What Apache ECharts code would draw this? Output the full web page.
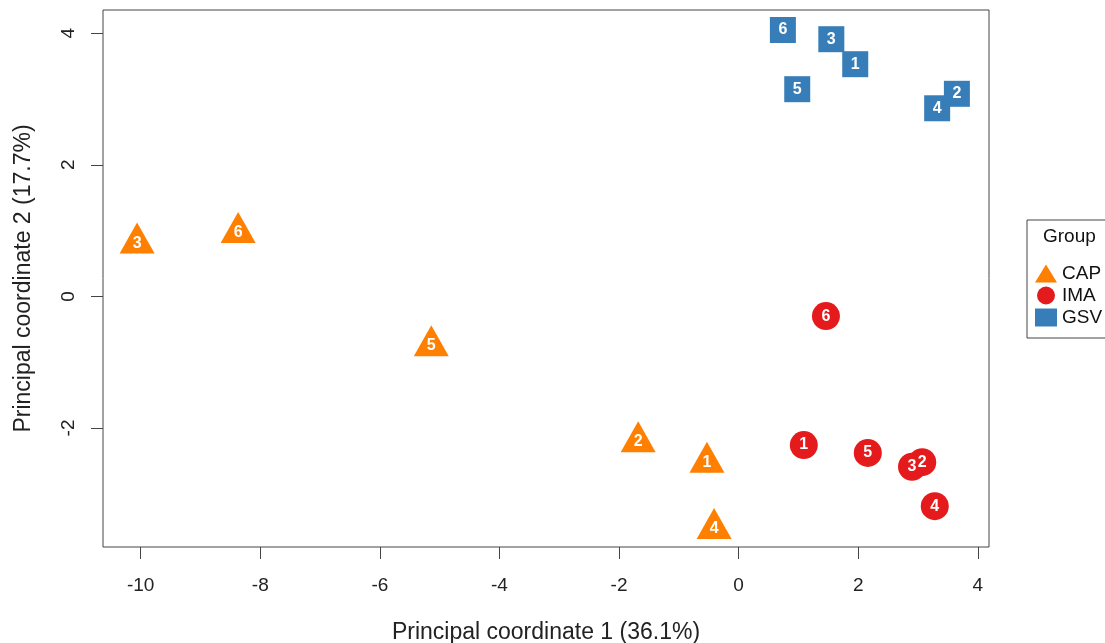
<!DOCTYPE html>
<html>
<head>
<meta charset="utf-8">
<script src="https://cdn.jsdelivr.net/npm/echarts@6/dist/echarts.min.js"></script>
<style>html,body{margin:0;padding:0;background:#fff;}#c{width:1105px;height:643px;}</style>
</head>
<body>
<div id="c"></div>
<script>
// Data
const groups = ['CAP', 'IMA', 'GSV'];
const capIds = ['3', '6', '5', '2', '1', '4'];
const capX = [-10.06, -8.37, -5.14, -1.68, -0.53, -0.41];
const capY = [0.81, 0.97, -0.75, -2.21, -2.52, -3.53];
const imaIds = ['1', '2', '3', '4', '5', '6'];
const imaX = [1.09, 3.07, 2.90, 3.28, 2.16, 1.46];
const imaY = [-2.26, -2.52, -2.59, -3.19, -2.38, -0.30];
const gsvIds = ['1', '2', '3', '4', '5', '6'];
const gsvX = [1.95, 3.65, 1.55, 3.32, 0.98, 0.74];
const gsvY = [3.53, 3.08, 3.91, 2.86, 3.15, 4.05];
const xTicks = [-10, -8, -6, -4, -2, 0, 2, 4];
const yTicks = [-2, 0, 2, 4];
const xTitle = 'Principal coordinate 1 (36.1%)';
const yTitle = 'Principal coordinate 2 (17.7%)';
const legendTitle = 'Group';

const colors = { CAP: '#FF7F00', IMA: '#E41A1C', GSV: '#377EB8' };
const font = '"Liberation Sans", Arial, Helvetica, sans-serif';

function pts(xs, ys, ids) {
  return xs.map((x, i) => [x, ys[i], ids[i]]);
}

const labelStyle = {
  show: true, position: 'inside', formatter: p => p.value[2],
  color: '#fff', fontWeight: 'bold', fontSize: 16, fontFamily: font
};

const chart = echarts.init(document.getElementById('c'), null, { renderer: 'canvas' });
chart.setOption({
  animation: false,
  backgroundColor: '#fff',
  grid: {
    left: 103, right: 116, top: 10, bottom: 96,
    outerBoundsMode: 'none', containLabel: false,
    show: true, borderColor: '#444', borderWidth: 1, backgroundColor: 'transparent'
  },
  xAxis: {
    type: 'value', min: -10.63, max: 4.187,
    splitLine: { show: false },
    axisLine: { show: false, onZero: false },
    axisTick: { show: true, length: 12, customValues: xTicks, lineStyle: { color: '#444' } },
    axisLabel: { customValues: xTicks, margin: 29, fontSize: 19, color: '#222', fontFamily: font },
    name: xTitle, nameLocation: 'middle', nameGap: 74,
    nameTextStyle: { fontSize: 23, color: '#222', fontFamily: font, verticalAlign: 'top' }
  },
  yAxis: {
    type: 'value', min: -3.81, max: 4.354,
    splitLine: { show: false },
    axisLine: { show: false, onZero: false },
    axisTick: { show: true, length: 12, customValues: yTicks, lineStyle: { color: '#444' } },
    axisLabel: { customValues: yTicks, margin: 25, rotate: 90, fontSize: 19, color: '#222', fontFamily: font },
    name: yTitle, nameLocation: 'middle', nameGap: 68,
    nameTextStyle: { fontSize: 23, color: '#222', fontFamily: font }
  },
  legend: {
    orient: 'vertical', left: 1027, top: 220,
    data: groups,
    itemWidth: 22, itemHeight: 18, itemGap: 3,
    padding: [44, 10, 11, 8],
    borderColor: '#444', borderWidth: 1,
    textStyle: { fontSize: 19, lineHeight: 18, color: '#111', fontFamily: font, padding: [0, 0, 0, 0] }
  },
  graphic: [{
    type: 'text', left: 1043, top: 227,
    style: { text: legendTitle, fontSize: 19, fill: '#111', fontFamily: font }
  }],
  series: [
    {
      name: 'CAP', type: 'scatter', symbol: 'triangle', symbolSize: [35, 31], symbolOffset: [0, -5],
      itemStyle: { color: colors.CAP, opacity: 1 },
      label: Object.assign({}, labelStyle, { offset: [0, 5] }),
      data: pts(capX, capY, capIds)
    },
    {
      name: 'IMA', type: 'scatter', symbol: 'circle', symbolSize: 28,
      itemStyle: { color: colors.IMA, opacity: 1 },
      label: labelStyle,
      data: pts(imaX, imaY, imaIds)
    },
    {
      name: 'GSV', type: 'scatter', symbol: 'rect', symbolSize: 26,
      itemStyle: { color: colors.GSV, opacity: 1 },
      label: labelStyle,
      data: pts(gsvX, gsvY, gsvIds)
    }
  ]
});
</script>
</body>
</html>
